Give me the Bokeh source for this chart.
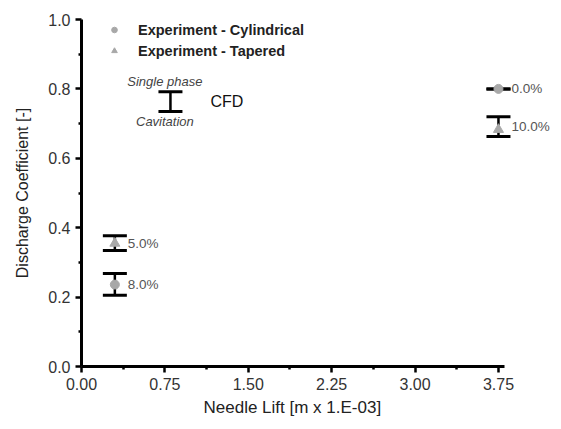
from bokeh.plotting import figure
from bokeh.models import (ColumnDataSource, Whisker, TeeHead, FixedTicker,
                          PrintfTickFormatter, Range1d, Legend, LegendItem, Label, Title)
from bokeh.core.properties import value
from bokeh.embed import file_html
from bokeh.resources import INLINE

# ---- data ----
cyl_x = [0.3, 3.75]
cyl_y = [0.236, 0.80]
tap_x = [0.3, 3.75]
tap_y = [0.355, 0.683]

cfd_x = [0.3, 0.3, 3.75, 3.75]
cfd_single = [0.377, 0.268, 0.80, 0.720]
cfd_cavit = [0.334, 0.205, 0.80, 0.663]
cfd_labels = ["5.0%", "8.0%", "0.0%", "10.0%"]

x_ticks = [0.0, 0.75, 1.5, 2.25, 3.0, 3.75]
x_minor = [0.375, 1.125, 1.875, 2.625, 3.375]
y_ticks = [0.0, 0.2, 0.4, 0.6, 0.8, 1.0]
y_minor = [0.1, 0.3, 0.5, 0.7, 0.9]

FONT = "Liberation Sans"

p = figure(width=553, height=420, output_backend="svg", toolbar_location=None,
           x_range=Range1d(0, 4.245), y_range=Range1d(0, 1.0),
           min_border_left=81, min_border_top=19, min_border_bottom=54,
           min_border_right=0)
p.outline_line_color = None
p.grid.visible = False
p.background_fill_color = "white"
p.border_fill_color = "white"

# axes
for ax in p.xaxis + p.yaxis:
    ax.axis_line_width = 3
    ax.axis_line_color = "#000000"
    ax.major_tick_line_width = 2.5
    ax.major_tick_line_color = "#000000"
    ax.minor_tick_line_width = 2.5
    ax.minor_tick_line_color = "#000000"
    ax.major_tick_out = 6
    ax.major_tick_in = 0
    ax.minor_tick_out = 3
    ax.minor_tick_in = 0
    ax.major_label_text_font = FONT
    ax.major_label_text_font_size = "16px"
    ax.major_label_text_color = "#333333"
    ax.axis_label_text_font = FONT
    ax.axis_label_text_font_size = "16px"
    ax.axis_label_text_font_style = "normal"
    ax.axis_label_text_color = "#222222"

p.xaxis.ticker = FixedTicker(ticks=x_ticks, minor_ticks=x_minor)
p.xaxis.formatter = PrintfTickFormatter(format="%.2f")
p.xaxis.bounds = (0, 3.8)
p.xaxis.major_label_standoff = 5
p.xaxis.axis_label = None

p.yaxis.ticker = FixedTicker(ticks=y_ticks, minor_ticks=y_minor)
p.yaxis.formatter = PrintfTickFormatter(format="%.1f")
p.yaxis.major_label_standoff = 5
p.yaxis.axis_label = "Discharge Coefficient [-]"
p.yaxis.axis_label_standoff = 14

p.add_layout(Title(text="Needle Lift [m x 1.E-03]", align="left", offset=122,
                   text_font=FONT, text_font_size="17px",
                   text_font_style="normal", text_color="#222222",
                   standoff=6), "below")

# experimental markers
r_cyl = p.scatter(cyl_x, cyl_y, marker="circle", size=9,
                  fill_color="#a8a8a8", line_color="#a8a8a8")
r_tap = p.scatter(tap_x, tap_y, marker="triangle", size=10,
                  fill_color="#a8a8a8", line_color="#a8a8a8")

# CFD whiskers
src = ColumnDataSource(dict(x=cfd_x, upper=cfd_single, lower=cfd_cavit,
                            mid=[(a + b) / 2 for a, b in zip(cfd_single, cfd_cavit)],
                            lab=cfd_labels))
w = Whisker(source=src, base="x", upper="upper", lower="lower",
            line_width=2.5, line_color="black",
            upper_head=TeeHead(size=24, line_width=3, line_color="black"),
            lower_head=TeeHead(size=24, line_width=3, line_color="black"))
p.add_layout(w)
p.text(x="x", y="mid", text="lab", source=src, x_offset=13,
       text_baseline="middle", text_align="left",
       text_font=value(FONT), text_font_size="13.5px", text_color="#555555")

# CFD legend key
key = ColumnDataSource(dict(x=[0.80], upper=[0.792], lower=[0.735]))
p.add_layout(Whisker(source=key, base="x", upper="upper", lower="lower",
                     line_width=2.5, line_color="black",
                     upper_head=TeeHead(size=24, line_width=3, line_color="black"),
                     lower_head=TeeHead(size=24, line_width=3, line_color="black")))
p.add_layout(Label(x=0.75, y=0.822, text="Single phase", text_align="center",
                   text_baseline="middle", text_font=FONT, text_font_size="13px",
                   text_font_style="italic", text_color="#444444"))
p.add_layout(Label(x=0.75, y=0.706, text="Cavitation", text_align="center",
                   text_baseline="middle", text_font=FONT, text_font_size="13px",
                   text_font_style="italic", text_color="#444444"))
p.add_layout(Label(x=1.16, y=0.764, text="CFD", text_align="left",
                   text_baseline="middle", text_font=FONT, text_font_size="16px",
                   text_color="#111111"))

# experiment legend
legend = Legend(items=[LegendItem(label="Experiment - Cylindrical", renderers=[r_cyl]),
                       LegendItem(label="Experiment - Tapered", renderers=[r_tap])],
                location=(26, 305), padding=0, margin=0, spacing=0,
                glyph_width=14, glyph_height=21, label_height=21,
                label_standoff=17, border_line_color=None,
                background_fill_alpha=0,
                label_text_font=FONT, label_text_font_size="14.5px",
                label_text_font_style="bold", label_text_color="#222222")
p.add_layout(legend, "center")

open("out.html", "w").write(file_html(p, INLINE))
